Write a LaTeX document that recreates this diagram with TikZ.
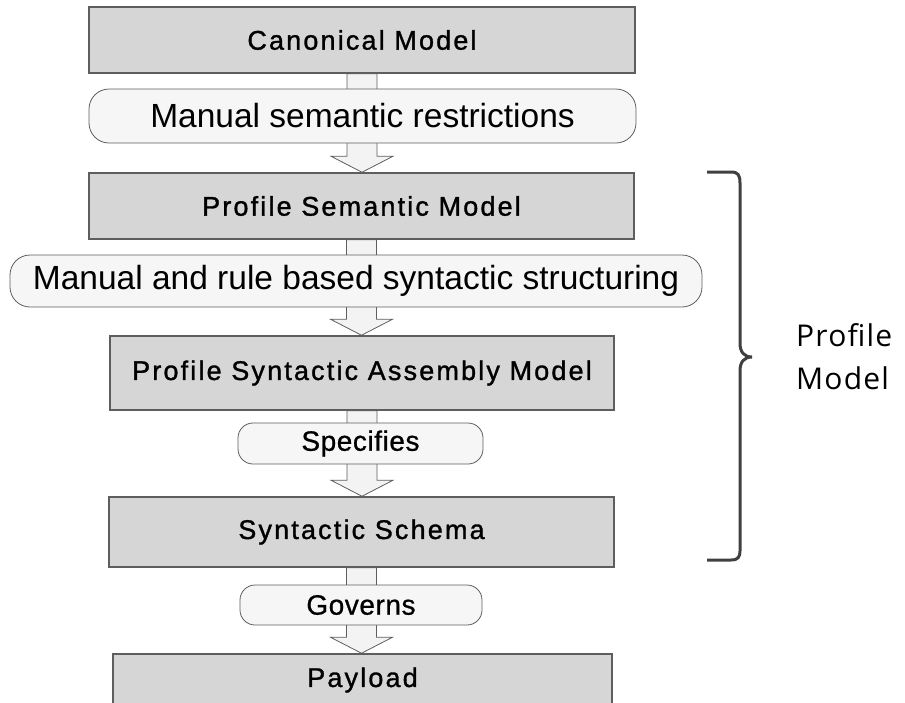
\documentclass[tikz,border=0pt]{standalone}
\usepackage{fontspec}
\setmainfont{Liberation Sans}
\newfontfamily\boxfont[LetterSpace=8,FakeBold=1.2]{Liberation Sans}
\newfontfamily\pillfont[LetterSpace=2,FakeBold=0.8]{Liberation Sans}
\newfontfamily\sidefont[LetterSpace=4]{Open Sans}
\usetikzlibrary{calc,backgrounds}
\definecolor{boxgray}{HTML}{D6D6D6}
\definecolor{edgegray}{HTML}{5E5E5E}
\definecolor{pillwhite}{HTML}{F6F6F6}
\definecolor{arrowwhite}{HTML}{F3F3F3}
\definecolor{bracegray}{HTML}{404040}
\newcommand{\ShaftHalf}{15pt}
\newcommand{\HeadHalf}{31pt}
\newcommand{\HeadLength}{16pt}
% hollow block arrow from one model box down to the next
\newcommand{\flowarrow}[2]{%
  \draw[arrowbody] let \p1=(#1.south), \p2=(#2.north) in
    (\x1-\ShaftHalf,\y1) -- (\x1+\ShaftHalf,\y1)
    -- (\x1+\ShaftHalf,\y2+\HeadLength) -- (\x1+\HeadHalf,\y2+\HeadLength)
    -- (\x1,\y2) -- (\x1-\HeadHalf,\y2+\HeadLength)
    -- (\x1-\ShaftHalf,\y2+\HeadLength) -- cycle;}

\begin{document}
\begin{tikzpicture}[x=1pt, y=-1pt,
    modelbox/.style={draw=edgegray, line width=1.5pt, fill=boxgray, inner sep=0pt,
                     font=\boxfont\fontsize{27}{32}\selectfont},
    actionpill/.style={draw=edgegray, line width=0.8pt, fill=pillwhite, inner sep=0pt,
                       rounded corners=20pt, font=\fontsize{33.5}{40}\selectfont},
    smallpill/.style={actionpill, rounded corners=15pt, font=\pillfont\fontsize{28}{34}\selectfont},
    arrowbody/.style={draw=edgegray, line width=0.8pt, fill=arrowwhite}]
    \useasboundingbox (0,0) rectangle (905,702);
    \clip (0,0) rectangle (905,702);

    % draw model boxes
    \node[modelbox, minimum width=546, minimum height=66] (canon) at (362,40) {Canonical Model};
    \node[modelbox, minimum width=545, minimum height=66] (semantic) at (361.5,206) {Profile Semantic Model};
    \node[modelbox, minimum width=504, minimum height=74] (assembly) at (362,373) {Profile Syntactic Assembly Model};
    \node[modelbox, minimum width=505, minimum height=70] (schema) at (361.5,532) {Syntactic Schema};
    \node[modelbox, minimum width=499, minimum height=52] (payload) at (362.5,680) {Payload};

    % draw arrows behind the pills
    \begin{scope}[on background layer]
      \flowarrow{canon}{semantic}
      \flowarrow{semantic}{assembly}
      \flowarrow{assembly}{schema}
      \flowarrow{schema}{payload}
    \end{scope}

    % draw pills
    \node[actionpill, minimum width=547, minimum height=54] (restrict) at (362.5,116) {Manual semantic restrictions};
    \node[actionpill, minimum width=692, minimum height=52] (structure) at (356,281) {Manual and rule based syntactic structuring};
    \node[smallpill, minimum width=245, minimum height=41] (specifies) at (360.5,443.5) {Specifies};
    \node[smallpill, minimum width=242, minimum height=40] (governs) at (361,605) {Governs};

    % draw brace
    \coordinate (bracetop) at (707,172);
    \coordinate (bracetip) at (752,357);
    \coordinate (bracebot) at (707,560);
    \draw[bracegray, line width=3pt] (bracetop) -- (731,172) .. controls (738,172) and (740,175) .. (740,183)
        -- (740,343) .. controls (740,352) and (744,357) .. (bracetip)
        .. controls (744,357) and (740,362) .. (740,371)
        -- (740,551) .. controls (740,557) and (738,560) .. (731,560) -- (bracebot);
    \node[font=\sidefont\fontsize{30}{43}\selectfont, align=left, anchor=west, inner sep=0pt] (profile) at (796,357) {Profile\\Model};
\end{tikzpicture}
\end{document}
